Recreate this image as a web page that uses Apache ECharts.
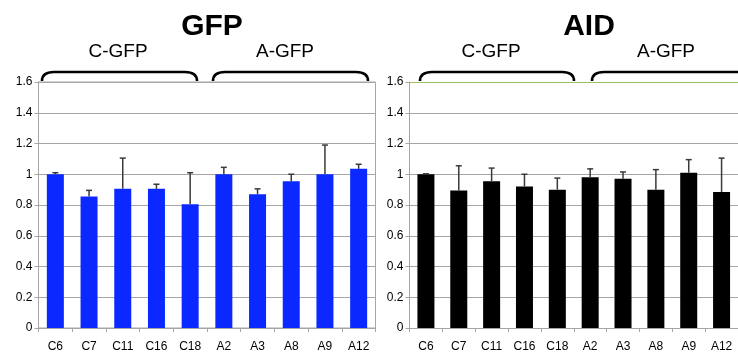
<!DOCTYPE html>
<html>
<head>
<meta charset="utf-8">
<script src="https://cdn.jsdelivr.net/npm/echarts@6/dist/echarts.min.js"></script>
<style>
  html, body { margin: 0; padding: 0; background: #ffffff; }
  #chart { width: 738px; height: 353px; }
</style>
</head>
<body>
<div id="chart"></div>
<script>
// Clone names shared by both panels
const clones = ['C6', 'C7', 'C11', 'C16', 'C18', 'A2', 'A3', 'A8', 'A9', 'A12'];

// Relative expression, GFP panel (mean and standard deviation)
const gfpMean = [1.00, 0.855, 0.905, 0.905, 0.805, 1.00, 0.87, 0.955, 1.00, 1.035];
const gfpSd   = [0.01, 0.04, 0.20, 0.03, 0.205, 0.045, 0.035, 0.045, 0.19, 0.03];

// Relative expression, AID panel (mean and standard deviation)
const aidMean = [1.00, 0.895, 0.955, 0.92, 0.90, 0.98, 0.97, 0.90, 1.01, 0.885];
const aidSd   = [0.003, 0.16, 0.085, 0.08, 0.075, 0.055, 0.045, 0.13, 0.085, 0.22];

// Y axis range
const yMin = 0, yMax = 1.6, yStep = 0.2;

const FONT = '"Liberation Sans", Arial, Helvetica, sans-serif';
const GRID_GRAY = '#a6a6a6';

const chart = echarts.init(document.getElementById('chart'), null, { renderer: 'canvas' });

function errorData(mean, sd) {
  return mean.map((m, i) => [i, m, +(m + sd[i]).toFixed(4)]);
}

function renderErrorBar(params, api) {
  const i = api.value(0);
  const base = api.coord([i, api.value(1)]);
  const top = api.coord([i, api.value(2)]);
  const cap = 3;
  const style = { stroke: '#3a3a3a', lineWidth: 1.5 };
  return {
    type: 'group',
    children: [
      { type: 'line', shape: { x1: base[0], y1: base[1], x2: top[0], y2: top[1] }, style },
      { type: 'line', shape: { x1: top[0] - cap, y1: top[1], x2: top[0] + cap, y2: top[1] }, style }
    ]
  };
}

function xAxisFor(gridIndex) {
  return {
    type: 'category',
    gridIndex,
    data: clones,
    axisLine: { show: true, lineStyle: { color: GRID_GRAY, width: 1 } },
    axisTick: { show: true, alignWithLabel: false, length: 4, lineStyle: { color: GRID_GRAY } },
    axisLabel: { color: '#000', fontFamily: FONT, fontSize: 12, margin: 13, interval: 0 }
  };
}

function yAxisFor(gridIndex) {
  return {
    type: 'value',
    gridIndex,
    min: yMin,
    max: yMax,
    interval: yStep,
    axisLine: { show: true, lineStyle: { color: GRID_GRAY, width: 1 } },
    axisTick: { show: true, length: 4, lineStyle: { color: GRID_GRAY } },
    axisLabel: { color: '#000', fontFamily: FONT, fontSize: 12, margin: 6 },
    splitLine: { show: true, lineStyle: { color: GRID_GRAY, width: 1 } }
  };
}

// Bracket drawn above a group of clones
function bracket(x1, x2) {
  const yTop = 72, yEnd = 81, r = 12;
  const style = { fill: null, stroke: '#000', lineWidth: 2.6 };
  return {
    type: 'group',
    silent: true,
    children: [
      { type: 'bezierCurve', shape: { x1: x1, y1: yEnd, x2: x1 + r, y2: yTop, cpx1: x1, cpy1: yTop }, style },
      { type: 'line', shape: { x1: x1 + r, y1: yTop, x2: x2 - r, y2: yTop }, style },
      { type: 'bezierCurve', shape: { x1: x2 - r, y1: yTop, x2: x2, y2: yEnd, cpx1: x2, cpy1: yTop }, style }
    ]
  };
}

function groupLabel(text, cx) {
  return {
    type: 'text',
    x: cx,
    y: 52,
    style: { text, fill: '#000', font: `19px ${FONT}`, textAlign: 'center', textVerticalAlign: 'middle' },
    silent: true
  };
}

chart.setOption({
  animation: false,
  backgroundColor: '#ffffff',
  title: [
    { text: 'GFP', left: 207, top: 7, textAlign: 'center',
      textStyle: { fontFamily: FONT, fontWeight: 'bold', fontSize: 30, color: '#000' } },
    { text: 'AID', left: 584, top: 7, textAlign: 'center',
      textStyle: { fontFamily: FONT, fontWeight: 'bold', fontSize: 30, color: '#000' } }
  ],
  grid: [
    { left: 38.5, top: 82, width: 337, height: 246.7, show: true, borderColor: GRID_GRAY, borderWidth: 1, backgroundColor: 'transparent' },
    { left: 409.5, top: 82, width: 334, height: 246.7 }
  ],
  xAxis: [xAxisFor(0), xAxisFor(1)],
  yAxis: [yAxisFor(0), yAxisFor(1)],
  series: [
    {
      name: 'GFP', type: 'bar', xAxisIndex: 0, yAxisIndex: 0,
      data: gfpMean, barWidth: 17,
      itemStyle: { color: '#0a28ff' }
    },
    {
      name: 'GFP sd', type: 'custom', xAxisIndex: 0, yAxisIndex: 0,
      data: errorData(gfpMean, gfpSd),
      encode: { x: 0, y: [1, 2] },
      renderItem: renderErrorBar, z: 3
    },
    {
      name: 'AID', type: 'bar', xAxisIndex: 1, yAxisIndex: 1,
      data: aidMean, barWidth: 17,
      itemStyle: { color: '#000000' },
      markLine: {
        silent: true, symbol: 'none', label: { show: false },
        lineStyle: { color: '#9cc05c', width: 1, type: 'solid' },
        data: [{ yAxis: yMax }]
      }
    },
    {
      name: 'AID sd', type: 'custom', xAxisIndex: 1, yAxisIndex: 1,
      data: errorData(aidMean, aidSd),
      encode: { x: 0, y: [1, 2] },
      renderItem: renderErrorBar, z: 3
    }
  ],
  graphic: [
    bracket(42, 197), bracket(213, 368),
    bracket(420, 574), bracket(592, 748),
    groupLabel('C-GFP', 118), groupLabel('A-GFP', 285),
    groupLabel('C-GFP', 491), groupLabel('A-GFP', 666)
  ]
});
</script>
</body>
</html>
